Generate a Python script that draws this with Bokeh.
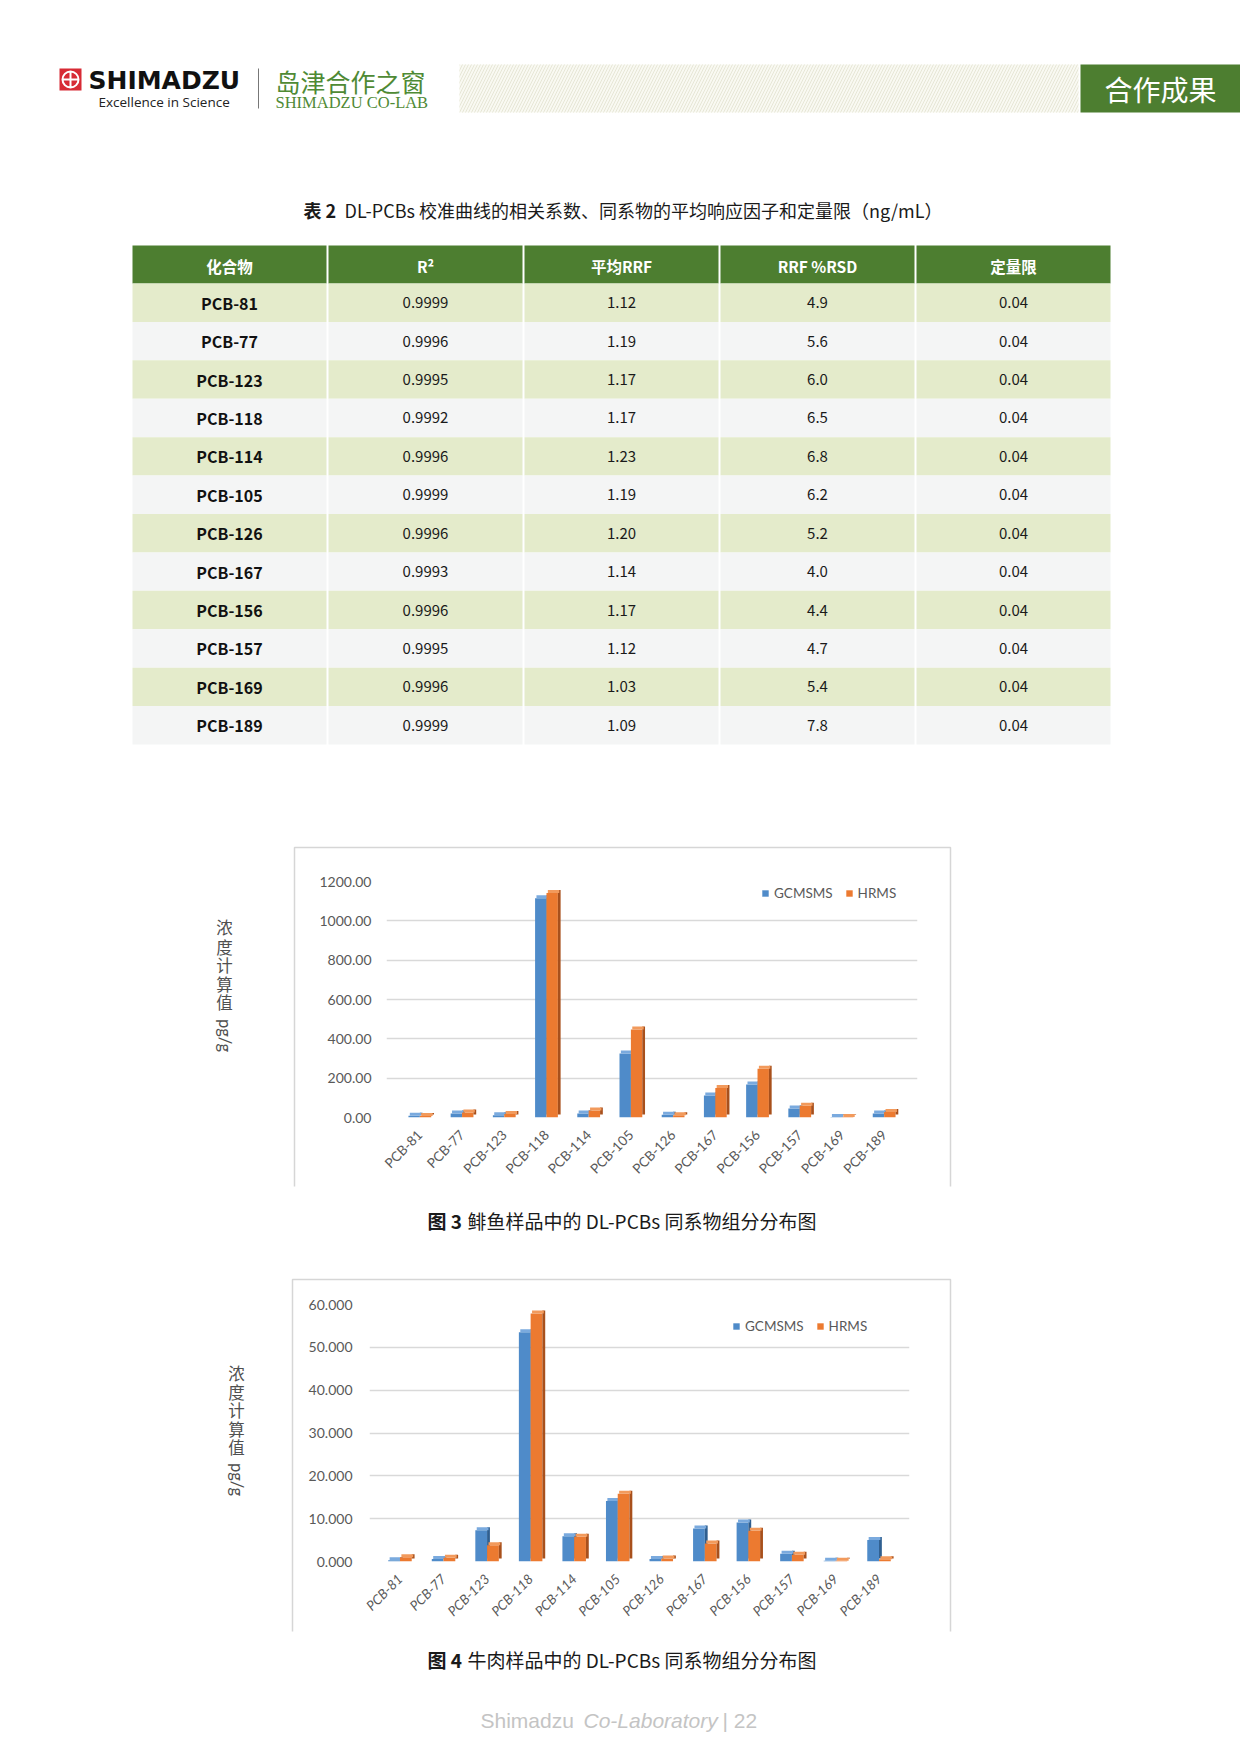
import math
from bokeh.plotting import figure
from bokeh.models import (Range1d, FactorRange, ColumnDataSource, Legend, LegendItem,
                          FixedTicker, PrintfTickFormatter)
from bokeh.transform import dodge
from bokeh.core.properties import value
from bokeh.embed import file_html
from bokeh.resources import INLINE

# ---------------- data ----------------
compounds = ["PCB-81", "PCB-77", "PCB-123", "PCB-118", "PCB-114", "PCB-105",
             "PCB-126", "PCB-167", "PCB-156", "PCB-157", "PCB-169", "PCB-189"]
table_headers = ["化合物", "R²", "平均RRF", "RRF %RSD", "定量限"]
r2 = ["0.9999", "0.9996", "0.9995", "0.9992", "0.9996", "0.9999",
      "0.9996", "0.9993", "0.9996", "0.9995", "0.9996", "0.9999"]
avg_rrf = ["1.12", "1.19", "1.17", "1.17", "1.23", "1.19",
           "1.20", "1.14", "1.17", "1.12", "1.03", "1.09"]
rrf_rsd = ["4.9", "5.6", "6.0", "6.5", "6.8", "6.2",
           "5.2", "4.0", "4.4", "4.7", "5.4", "7.8"]
loq = ["0.04", "0.04", "0.04", "0.04", "0.04", "0.04",
       "0.04", "0.04", "0.04", "0.04", "0.04", "0.04"]

fish_gcmsms = [9, 20, 11, 1115, 20, 325, 14, 112, 168, 46, 3, 20]
fish_hrms = [8, 25, 18, 1142, 35, 447, 11, 150, 248, 60, 3, 28]
beef_gcmsms = [0.3, 0.6, 7.3, 53.5, 5.9, 14.1, 0.6, 7.7, 9.1, 1.8, 0.2, 5.0]
beef_hrms = [1.0, 0.9, 3.8, 57.9, 5.8, 15.8, 0.7, 4.2, 7.2, 1.6, 0.2, 0.5]

fish_ticks = [0, 200, 400, 600, 800, 1000, 1200]
beef_ticks = [0, 10, 20, 30, 40, 50, 60]
series_names = ["GCMSMS", "HRMS"]
ylabel_chars = ["浓", "度", "计", "算", "值"]
ylabel_unit = "pg/g"

# ---------------- styles ----------------
PW, PH = 1240, 1752
CJK = "Noto Sans CJK SC"
XL = "Lato"
GREEN = "#4d7e30"
BLUE = "#4f8bc9"
BLUE_SIDE = "#2f5f90"
BLUE_TOP = "#7aaade"
ORANGE = "#ec7a30"
ORANGE_SIDE = "#a8501c"
ORANGE_TOP = "#f29a5c"
GRAY_TXT = "#595959"
TXT = "#1a1a1a"

# ---------------- page background: header, table, captions, frames ----------------
bg = figure(width=PW, height=PH, x_range=Range1d(0, PW), y_range=Range1d(PH, 0),
            output_backend="svg", toolbar_location=None, x_axis_type=None,
            y_axis_type=None, min_border=0, title=None)
bg.outline_line_color = None
bg.grid.visible = False


def txt(x, y, t, font=CJK, size="15px", color=TXT, align="left", style="normal", angle=0.0):
    bg.text(x=x if isinstance(x, list) else [x], y=y if isinstance(y, list) else [y],
            text=t if isinstance(t, list) else [t], text_font=value(font),
            text_font_size=value(size), text_color=color, text_align=align,
            text_baseline="middle", text_font_style=style, angle=angle)


# logo
bg.quad(left=[59], right=[81], top=[68], bottom=[90], fill_color="#d72b35", line_color=None)
bg.scatter(x=[70], y=[79], marker="circle_cross", size=16, fill_color=None,
           line_color="white", line_width=2)
txt(88, 80, "SHIMADZU", font="DejaVu Sans", size="25px", color="#111111", style="bold")
txt(98, 101, "Excellence in Science", font="Open Sans", size="13.5px", color="#222222")
bg.segment(x0=[258], y0=[68], x1=[258], y1=[108], line_color="#777777", line_width=1)
txt(275, 80, "岛津合作之窗", size="25px", color="#4f8a35")
txt(275, 102, "SHIMADZU CO-LAB", font="Liberation Serif", size="16.5px", color="#4f8a35")
# striped banner + green tag
bg.quad(left=[459], right=[1078], top=[64], bottom=[112], fill_color="#f9f9f2",
        line_color=None, hatch_pattern="/", hatch_color="#e6e6d6", hatch_scale=6,
        hatch_weight=1)
bg.quad(left=[1080], right=[1240], top=[64], bottom=[112], fill_color=GREEN, line_color=None)
txt(1160, 88, "合作成果", size="28px", color="white", align="center")

# table title
txt(303, 209, "表 2", size="18px", style="bold")
txt(344, 209, "DL-PCBs 校准曲线的相关系数、同系物的平均响应因子和定量限（ng/mL）", size="18px")

# table
tbl_left, tbl_right = 131, 1111
hdr_top, hdr_bot = 245, 283
row_h = (744 - 283) / 12
col_w = (tbl_right - tbl_left) / 5
col_l = [tbl_left + c * col_w + 1 for c in range(5)]
col_r = [tbl_left + (c + 1) * col_w - 1 for c in range(5)]
col_c = [tbl_left + (c + 0.5) * col_w for c in range(5)]

bg.quad(left=col_l, right=col_r, top=[hdr_top] * 5, bottom=[hdr_bot] * 5,
        fill_color=GREEN, line_color=None)
txt(col_c, [(hdr_top + hdr_bot) / 2 + 1] * 5, table_headers, size="15.5px", color="white",
    align="center", style="bold")

cl, cr, ct, cb, cf = [], [], [], [], []
for r in range(len(compounds)):
    for c in range(5):
        cl.append(col_l[c]); cr.append(col_r[c])
        ct.append(hdr_bot + r * row_h); cb.append(hdr_bot + (r + 1) * row_h)
        cf.append("#e4ebcb" if r % 2 == 0 else "#f4f5f5")
bg.quad(left=cl, right=cr, top=ct, bottom=cb, fill_color=cf, line_color=None)

row_y = [hdr_bot + (r + 0.5) * row_h for r in range(len(compounds))]
txt([col_c[0]] * 12, row_y, compounds, size="16px", color="#111111", align="center", style="bold")
for c, col in zip(range(1, 5), [r2, avg_rrf, rrf_rsd, loq]):
    txt([col_c[c]] * 12, row_y, col, size="15px", align="center")

# chart frames (light border around each figure picture)
FR = "#d6d6d6"
bg.multi_line(xs=[[294, 294, 950, 950], [292, 292, 950, 950]],
              ys=[[1186, 847, 847, 1186], [1631, 1279, 1279, 1631]],
              line_color=FR, line_width=1.5)

# vertical y-axis titles
txt([224] * 5, [926.5, 946, 964.5, 983, 1001.5], ylabel_chars, size="16.5px", color="#505050",
    align="center")
txt(224, 1035, ylabel_unit, font=XL, size="16.5px", color="#505050", align="center",
    angle=-math.pi / 2)
txt([236] * 5, [1372, 1391, 1409.5, 1428, 1446.5], ylabel_chars, size="16.5px", color="#505050",
    align="center")
txt(236, 1479, ylabel_unit, font=XL, size="16.5px", color="#505050", align="center",
    angle=-math.pi / 2)

# captions
txt(427, 1220, "图 3", size="19px", style="bold")
txt(467, 1220, "鲱鱼样品中的 DL-PCBs 同系物组分分布图", size="19px")
txt(427, 1659, "图 4", size="19px", style="bold")
txt(467, 1659, "牛肉样品中的 DL-PCBs 同系物组分分布图", size="19px")

# footer
FOOT = "Liberation Sans"
txt(480, 1720, "Shimadzu", font=FOOT, size="21px", color="#c4c4c4")
txt(583, 1720, "Co-Laboratory", font=FOOT, size="21px", color="#c4c4c4", style="italic")
txt(722, 1720, "| 22", font=FOOT, size="21px", color="#c4c4c4")


# ---------------- charts ----------------
def make_chart(left, top_px, width, height, b_top, b_left, f_w, f_h, pad, gvals, hvals,
               ticks, fmt, italic, legend_xy, ystand):
    b_right = width - b_left - f_w
    b_bot = height - b_top - f_h
    p = figure(width=width, height=height,
               x_range=FactorRange(*compounds, range_padding=pad, range_padding_units="absolute"),
               y_range=Range1d(0, ticks[-1]), output_backend="svg", toolbar_location=None,
               min_border_left=b_left, min_border_right=b_right, min_border_top=b_top,
               min_border_bottom=b_bot, title=None,
               styles={"position": "absolute", "left": f"{left}px", "top": f"{top_px}px"})
    p.outline_line_color = None
    p.background_fill_alpha = 0
    p.border_fill_alpha = 0
    p.xgrid.grid_line_color = None
    p.ygrid.ticker = FixedTicker(ticks=ticks)
    p.ygrid.grid_line_color = "#d9d9d9"
    p.ygrid.grid_line_width = 1.5
    p.yaxis.ticker = FixedTicker(ticks=ticks)
    p.yaxis.formatter = PrintfTickFormatter(format=fmt)
    for ax in (p.xaxis, p.yaxis):
        ax.axis_line_color = None
        ax.major_tick_line_color = None
        ax.minor_tick_line_color = None
        ax.major_label_text_color = GRAY_TXT
        ax.major_label_text_font = XL
    p.yaxis.major_label_text_font_size = "14px"
    p.yaxis.major_label_standoff = ystand
    p.xaxis.major_label_text_font_size = "13.5px"
    p.xaxis.major_label_orientation = math.pi / 4
    p.xaxis.major_label_standoff = 9
    if italic:
        p.xaxis.major_label_text_font_style = "italic"

    # pseudo-3D columns: front face, darker side face and lighter top face
    depth = 3 * ticks[-1] / f_h          # 3 px of depth expressed in data units
    src = ColumnDataSource(dict(cat=compounds, g=gvals, h=hvals))
    bw, sw = 0.27, 0.065
    rb = p.vbar(x=dodge("cat", -bw / 2, range=p.x_range), top="g", width=bw, source=src,
                fill_color=BLUE, line_color=None)
    p.vbar(x=dodge("cat", sw / 2, range=p.x_range), top=dodge("g", depth), bottom=depth,
           width=sw, source=src, fill_color=BLUE_SIDE, line_color=None)
    p.vbar(x=dodge("cat", -bw / 2 + sw / 2, range=p.x_range), top=dodge("g", depth),
           bottom="g", width=bw, source=src, fill_color=BLUE_TOP, line_color=None)
    ro = p.vbar(x=dodge("cat", bw / 2, range=p.x_range), top="h", width=bw, source=src,
                fill_color=ORANGE, line_color=None)
    p.vbar(x=dodge("cat", bw + sw / 2, range=p.x_range), top=dodge("h", depth), bottom=depth,
           width=sw, source=src, fill_color=ORANGE_SIDE, line_color=None)
    p.vbar(x=dodge("cat", bw / 2 + sw / 2, range=p.x_range), top=dodge("h", depth),
           bottom="h", width=bw, source=src, fill_color=ORANGE_TOP, line_color=None)

    legend = Legend(items=[LegendItem(label=series_names[0], renderers=[rb]),
                           LegendItem(label=series_names[1], renderers=[ro])],
                    orientation="horizontal", location=legend_xy, border_line_color=None,
                    background_fill_alpha=0, padding=0, margin=0, spacing=12,
                    glyph_width=8, glyph_height=8, label_standoff=5, label_height=9,
                    label_text_font=XL, label_text_font_size="13.5px",
                    label_text_color=GRAY_TXT)
    p.add_layout(legend)
    return p


# chart 1: figure spans page x 300..940, y 860..1200 ; frame x 386..917, y 881..1117
c1 = make_chart(300, 860, 640, 340, 21, 86, 531, 236, 0.29, fish_gcmsms, fish_hrms,
                fish_ticks, "%.2f", False, (375, 216), 9)
# chart 2: figure spans page x 300..940, y 1285..1640 ; frame x 369..909, y 1304..1561
c2 = make_chart(300, 1285, 640, 355, 19, 69, 540, 257, 0.2, beef_gcmsms, beef_hrms,
                beef_ticks, "%.3f", True, (363, 227), 11)

open("out.html", "w").write(file_html([bg, c1, c2], INLINE))
